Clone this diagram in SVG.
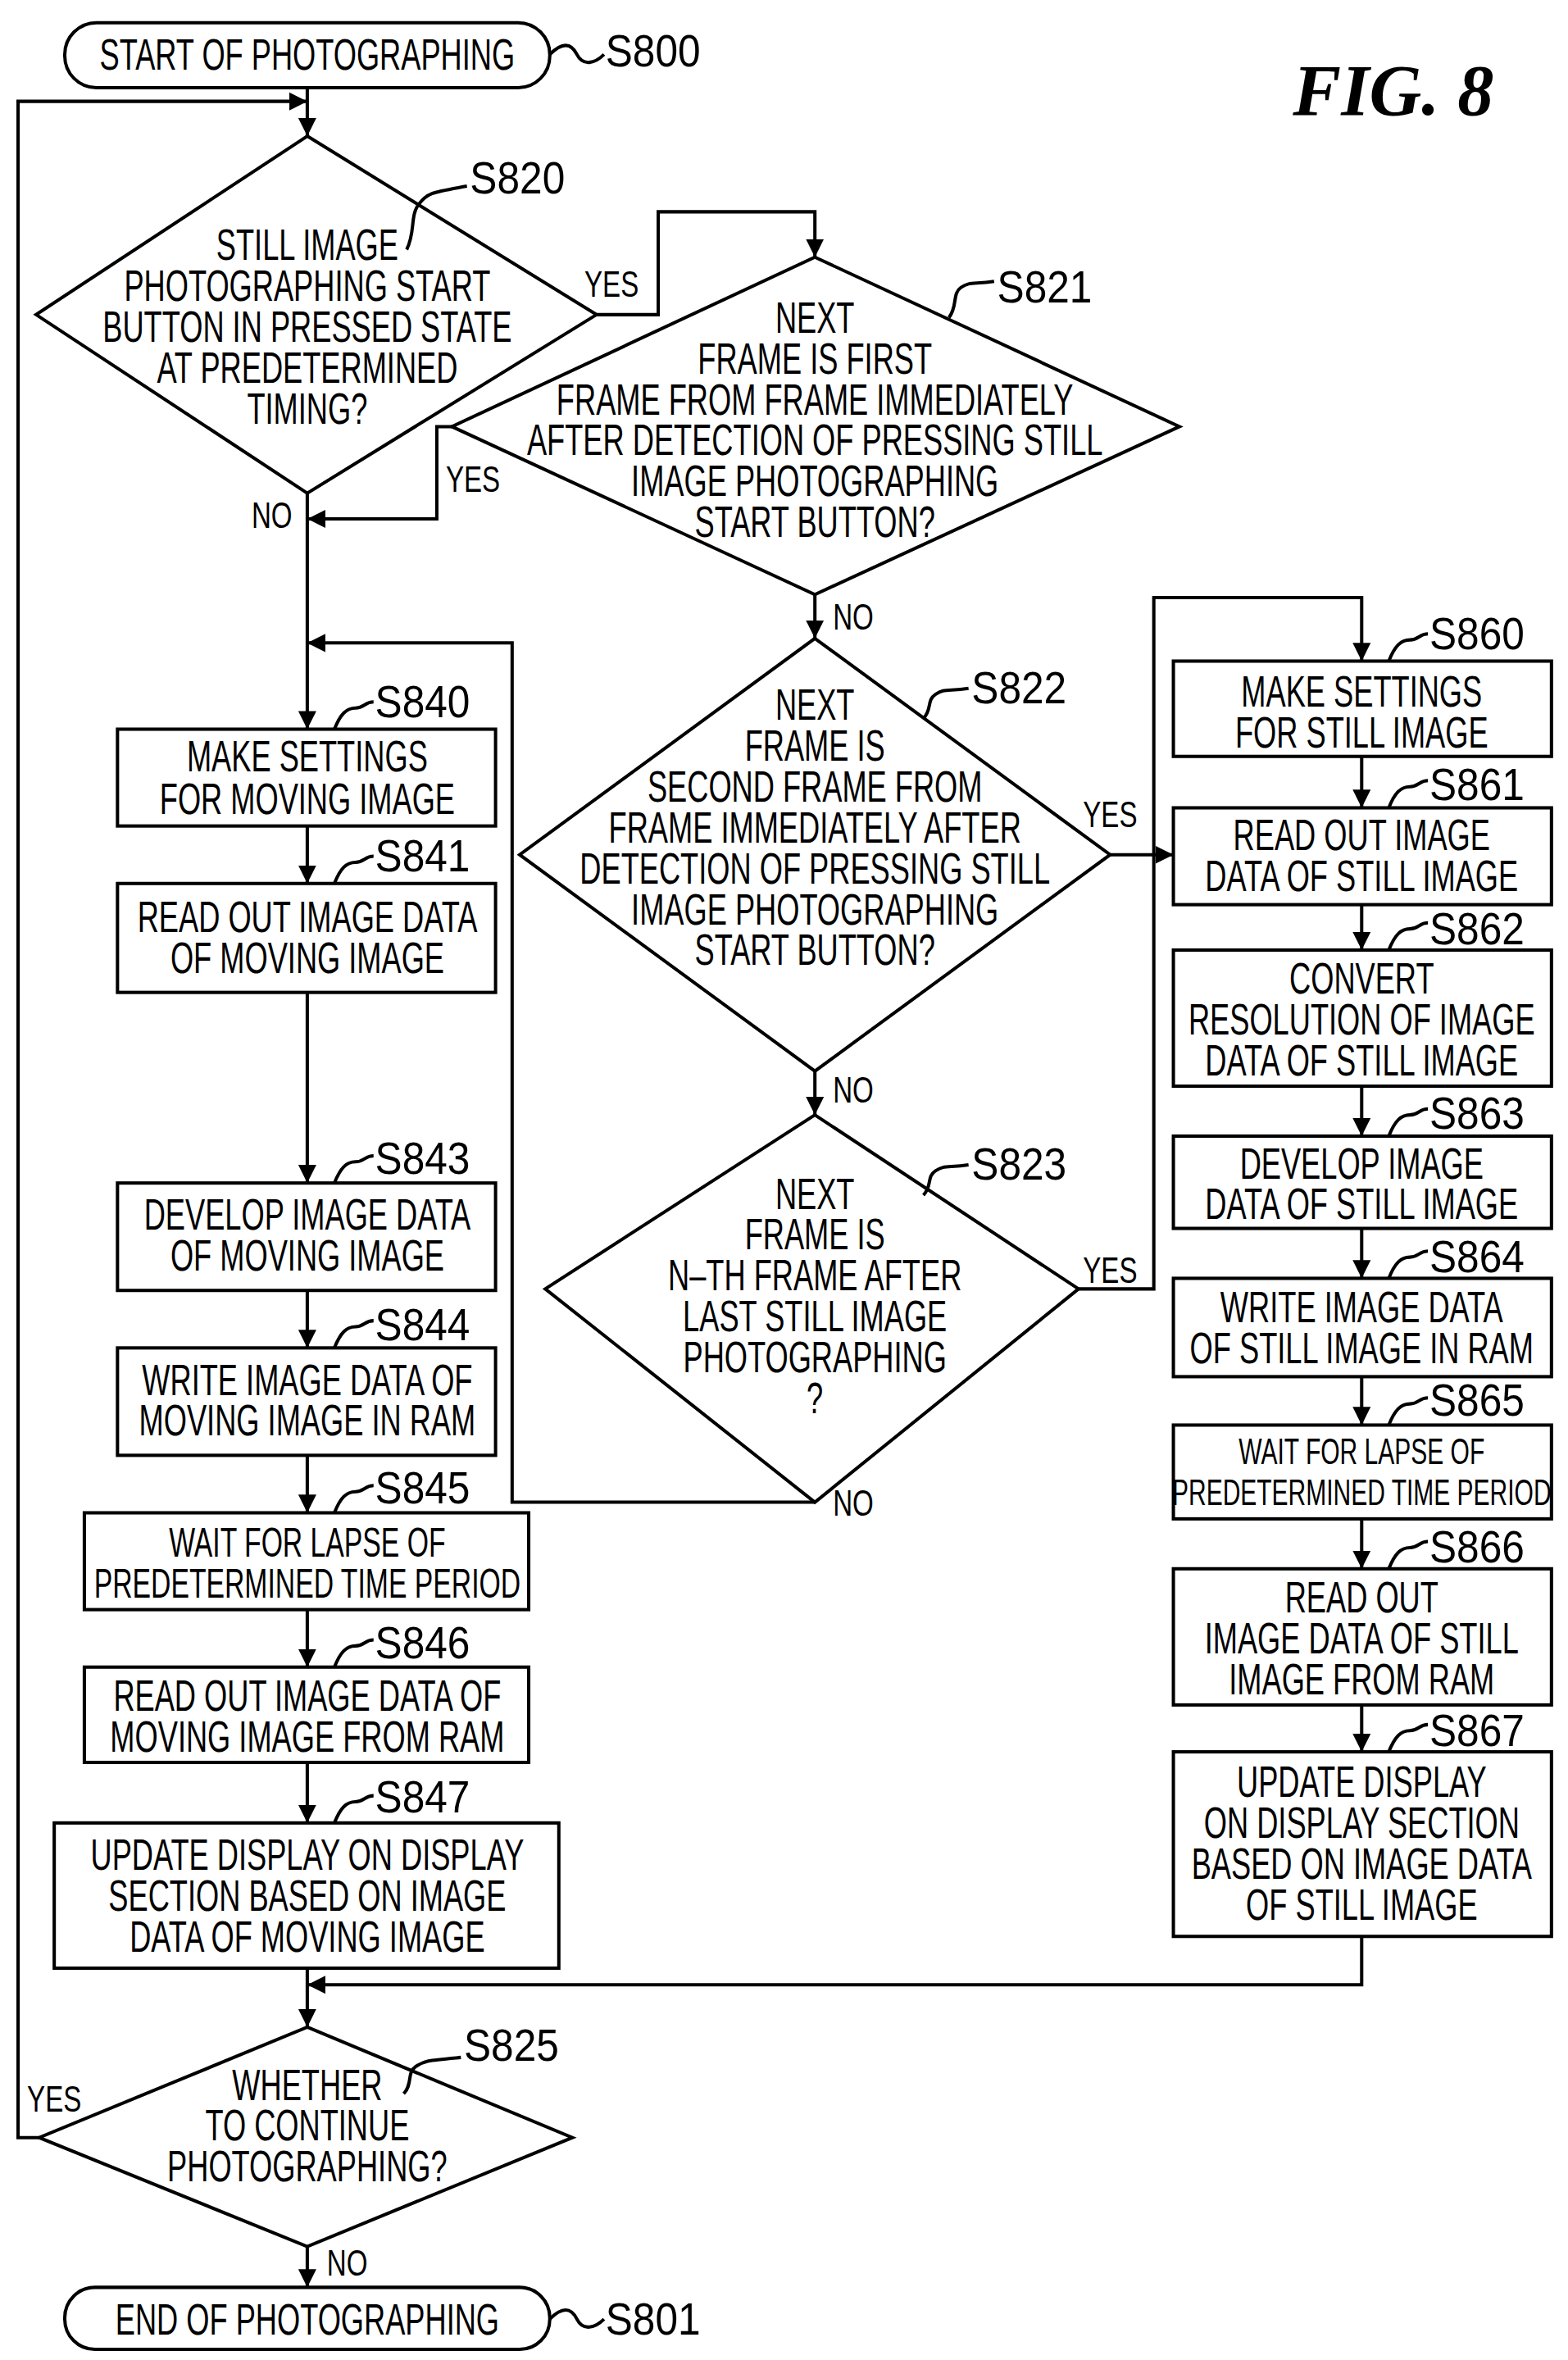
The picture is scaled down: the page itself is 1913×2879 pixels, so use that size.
<svg xmlns="http://www.w3.org/2000/svg" width="1913" height="2879" viewBox="0 0 1913 2879">
<style>
.s{fill:none;stroke:#000;stroke-width:2.2}
.t{font-family:"Liberation Sans",sans-serif;font-size:29px;text-anchor:middle;fill:#000;transform-box:fill-box;transform-origin:center;transform:scaleX(0.68)}
.l{font-family:"Liberation Sans",sans-serif;font-size:30px;fill:#000;transform-box:fill-box;transform-origin:left;transform:scaleX(0.9)}
.y{font-family:"Liberation Sans",sans-serif;font-size:24px;fill:#000;transform-box:fill-box;transform-origin:left;transform:scaleX(0.75)}
</style>
<defs>
<marker id="a" markerUnits="userSpaceOnUse" markerWidth="12" markerHeight="18" viewBox="0 0 12 18" refX="12" refY="9" orient="auto"><path d="M0,3L12,9L0,15Z" fill="#000"/></marker>
</defs>
<rect width="1913" height="2879" fill="#fff"/>
<g transform="scale(1.8377,1.8455)">
<text x="925" y="76" text-anchor="middle" style="font-family:'Liberation Serif',serif;font-style:italic;font-weight:bold;font-size:48px">FIG. 8</text>
<g id="connectors" class="s">
<path d="M204,58V90" marker-end="url(#a)"/>
<path d="M26,1413H12V67H204" marker-end="url(#a)"/>
<path d="M396,208H437V140H541V170" marker-end="url(#a)"/>
<path d="M300,282H290V343H204" marker-end="url(#a)"/>
<path d="M204,326V482" marker-end="url(#a)"/>
<path d="M541,993H340V425H204" marker-end="url(#a)"/>
<path d="M541,393V422" marker-end="url(#a)"/>
<path d="M541,708V737" marker-end="url(#a)"/>
<path d="M737,565H779" marker-end="url(#a)"/>
<path d="M716,852H766V395H904V437" marker-end="url(#a)"/>
<path d="M204,546V584" marker-end="url(#a)"/>
<path d="M204,656V782" marker-end="url(#a)"/>
<path d="M204,853V891" marker-end="url(#a)"/>
<path d="M204,962V1000" marker-end="url(#a)"/>
<path d="M204,1064V1102" marker-end="url(#a)"/>
<path d="M204,1165V1205" marker-end="url(#a)"/>
<path d="M204,1301V1340" marker-end="url(#a)"/>
<path d="M904,1280V1312H204" marker-end="url(#a)"/>
<path d="M204,1485V1512" marker-end="url(#a)"/>
<path d="M904,500V534" marker-end="url(#a)"/>
<path d="M904,598V628" marker-end="url(#a)"/>
<path d="M904,718V751" marker-end="url(#a)"/>
<path d="M904,812V845" marker-end="url(#a)"/>
<path d="M904,910V942" marker-end="url(#a)"/>
<path d="M904,1004V1037" marker-end="url(#a)"/>
<path d="M904,1127V1158" marker-end="url(#a)"/>
</g>
<g id="edge-labels">
<text class="y" x="388" y="196">YES</text>
<text class="y" x="296" y="325">YES</text>
<text class="y" x="167" y="349">NO</text>
<text class="y" x="553" y="416">NO</text>
<text class="y" x="719" y="547">YES</text>
<text class="y" x="553" y="729">NO</text>
<text class="y" x="719" y="848">YES</text>
<text class="y" x="553" y="1002">NO</text>
<text class="y" x="18" y="1396">YES</text>
<text class="y" x="217" y="1504">NO</text>
</g>
<g id="S800"><rect class="s" x="43" y="15" width="322" height="43" rx="21"/><text class="t" x="204" y="46">START OF PHOTOGRAPHING</text><path class="s" d="M365,36c8,-8 14,-8 18,0s12,6 18,0"/><text class="l" x="402" y="44">S800</text></g>
<g id="S820"><path class="s" d="M204,90L396,208L204,326L24,208Z"/><text class="t"><tspan x="204" y="172">STILL IMAGE</tspan><tspan x="204" y="199">PHOTOGRAPHING START</tspan><tspan x="204" y="226">BUTTON IN PRESSED STATE</tspan><tspan x="204" y="253">AT PREDETERMINED</tspan><tspan x="204" y="280">TIMING?</tspan></text><path class="s" d="M270,165c6,-12 2,-22 8,-30s10,-8 32,-12"/><text class="l" x="312" y="128">S820</text></g>
<g id="S821"><path class="s" d="M541,170L783,282L541,393L300,282Z"/><text class="t"><tspan x="541" y="220">NEXT</tspan><tspan x="541" y="247">FRAME IS FIRST</tspan><tspan x="541" y="274">FRAME FROM FRAME IMMEDIATELY</tspan><tspan x="541" y="301">AFTER DETECTION OF PRESSING STILL</tspan><tspan x="541" y="328">IMAGE PHOTOGRAPHING</tspan><tspan x="541" y="355">START BUTTON?</tspan></text><path class="s" d="M630,210c6,-8 2,-16 8,-20s8,-2 22,-4"/><text class="l" x="662" y="200">S821</text></g>
<g id="S822"><path class="s" d="M541,422L737,565L541,708L345,565Z"/><text class="t"><tspan x="541" y="476">NEXT</tspan><tspan x="541" y="503">FRAME IS</tspan><tspan x="541" y="530">SECOND FRAME FROM</tspan><tspan x="541" y="557">FRAME IMMEDIATELY AFTER</tspan><tspan x="541" y="584">DETECTION OF PRESSING STILL</tspan><tspan x="541" y="611">IMAGE PHOTOGRAPHING</tspan><tspan x="541" y="638">START BUTTON?</tspan></text><path class="s" d="M613,475c6,-6 2,-12 8,-16s8,-2 22,-4"/><text class="l" x="645" y="465">S822</text></g>
<g id="S823"><path class="s" d="M541,737L716,852L541,993L362,852Z"/><text class="t"><tspan x="541" y="799">NEXT</tspan><tspan x="541" y="826">FRAME IS</tspan><tspan x="541" y="853">N–TH FRAME AFTER</tspan><tspan x="541" y="880">LAST STILL IMAGE</tspan><tspan x="541" y="907">PHOTOGRAPHING</tspan><tspan x="541" y="934">?</tspan></text><path class="s" d="M613,790c6,-6 2,-12 8,-16s8,-2 22,-4"/><text class="l" x="645" y="780">S823</text></g>
<g id="S840"><rect class="s" x="78" y="482" width="251" height="64"/><text class="t"><tspan x="204" y="510">MAKE SETTINGS</tspan><tspan x="204" y="538">FOR MOVING IMAGE</tspan></text><path class="s" d="M222,482c4,-10 8,-14 14,-14s6,-4 12,-4"/><text class="l" x="249" y="474">S840</text></g>
<g id="S841"><rect class="s" x="78" y="584" width="251" height="72"/><text class="t"><tspan x="204" y="616">READ OUT IMAGE DATA</tspan><tspan x="204" y="643">OF MOVING IMAGE</tspan></text><path class="s" d="M222,584c4,-10 8,-14 14,-14s6,-4 12,-4"/><text class="l" x="249" y="576">S841</text></g>
<g id="S843"><rect class="s" x="78" y="782" width="251" height="71"/><text class="t"><tspan x="204" y="813">DEVELOP IMAGE DATA</tspan><tspan x="204" y="840">OF MOVING IMAGE</tspan></text><path class="s" d="M222,782c4,-10 8,-14 14,-14s6,-4 12,-4"/><text class="l" x="249" y="776">S843</text></g>
<g id="S844"><rect class="s" x="78" y="891" width="251" height="71"/><text class="t"><tspan x="204" y="922">WRITE IMAGE DATA OF</tspan><tspan x="204" y="949">MOVING IMAGE IN RAM</tspan></text><path class="s" d="M222,891c4,-10 8,-14 14,-14s6,-4 12,-4"/><text class="l" x="249" y="886">S844</text></g>
<g id="S845"><rect class="s" x="56" y="1000" width="295" height="64"/><text class="t" style="font-size:27px"><tspan x="204" y="1029">WAIT FOR LAPSE OF</tspan><tspan x="204" y="1056">PREDETERMINED TIME PERIOD</tspan></text><path class="s" d="M222,1000c4,-10 8,-14 14,-14s6,-4 12,-4"/><text class="l" x="249" y="994">S845</text></g>
<g id="S846"><rect class="s" x="56" y="1102" width="295" height="63"/><text class="t"><tspan x="204" y="1131">READ OUT IMAGE DATA OF</tspan><tspan x="204" y="1158">MOVING IMAGE FROM RAM</tspan></text><path class="s" d="M222,1102c4,-10 8,-14 14,-14s6,-4 12,-4"/><text class="l" x="249" y="1096">S846</text></g>
<g id="S847"><rect class="s" x="36" y="1205" width="335" height="96"/><text class="t"><tspan x="204" y="1236">UPDATE DISPLAY ON DISPLAY</tspan><tspan x="204" y="1263">SECTION BASED ON IMAGE</tspan><tspan x="204" y="1290">DATA OF MOVING IMAGE</tspan></text><path class="s" d="M222,1205c4,-10 8,-14 14,-14s6,-4 12,-4"/><text class="l" x="249" y="1198">S847</text></g>
<g id="S825"><path class="s" d="M204,1340L380,1413L204,1485L26,1413Z"/><text class="t"><tspan x="204" y="1388">WHETHER</tspan><tspan x="204" y="1415">TO CONTINUE</tspan><tspan x="204" y="1442">PHOTOGRAPHING?</tspan></text><path class="s" d="M268,1384c6,-6 2,-14 8,-18s8,-4 30,-6"/><text class="l" x="308" y="1362">S825</text></g>
<g id="S801"><rect class="s" x="43" y="1512" width="322" height="41" rx="20"/><text class="t" x="204" y="1543">END OF PHOTOGRAPHING</text><path class="s" d="M365,1533c8,-8 14,-8 18,0s12,6 18,0"/><text class="l" x="402" y="1543">S801</text></g>
<g id="S860"><rect class="s" x="779" y="437" width="251" height="63"/><text class="t"><tspan x="904" y="467">MAKE SETTINGS</tspan><tspan x="904" y="494">FOR STILL IMAGE</tspan></text><path class="s" d="M922,437c4,-10 8,-14 14,-14s6,-4 12,-4"/><text class="l" x="949" y="429">S860</text></g>
<g id="S861"><rect class="s" x="779" y="534" width="251" height="64"/><text class="t"><tspan x="904" y="562">READ OUT IMAGE</tspan><tspan x="904" y="589">DATA OF STILL IMAGE</tspan></text><path class="s" d="M922,534c4,-10 8,-14 14,-14s6,-4 12,-4"/><text class="l" x="949" y="529">S861</text></g>
<g id="S862"><rect class="s" x="779" y="628" width="251" height="90"/><text class="t"><tspan x="904" y="657">CONVERT</tspan><tspan x="904" y="684">RESOLUTION OF IMAGE</tspan><tspan x="904" y="711">DATA OF STILL IMAGE</tspan></text><path class="s" d="M922,628c4,-10 8,-14 14,-14s6,-4 12,-4"/><text class="l" x="949" y="624">S862</text></g>
<g id="S863"><rect class="s" x="779" y="751" width="251" height="61"/><text class="t"><tspan x="904" y="779">DEVELOP IMAGE</tspan><tspan x="904" y="806">DATA OF STILL IMAGE</tspan></text><path class="s" d="M922,751c4,-10 8,-14 14,-14s6,-4 12,-4"/><text class="l" x="949" y="746">S863</text></g>
<g id="S864"><rect class="s" x="779" y="845" width="251" height="65"/><text class="t"><tspan x="904" y="874">WRITE IMAGE DATA</tspan><tspan x="904" y="901">OF STILL IMAGE IN RAM</tspan></text><path class="s" d="M922,845c4,-10 8,-14 14,-14s6,-4 12,-4"/><text class="l" x="949" y="841">S864</text></g>
<g id="S865"><rect class="s" x="779" y="942" width="251" height="62"/><text class="t" style="font-size:24px"><tspan x="904" y="968">WAIT FOR LAPSE OF</tspan><tspan x="904" y="995">PREDETERMINED TIME PERIOD</tspan></text><path class="s" d="M922,942c4,-10 8,-14 14,-14s6,-4 12,-4"/><text class="l" x="949" y="936">S865</text></g>
<g id="S866"><rect class="s" x="779" y="1037" width="251" height="90"/><text class="t"><tspan x="904" y="1066">READ OUT</tspan><tspan x="904" y="1093">IMAGE DATA OF STILL</tspan><tspan x="904" y="1120">IMAGE FROM RAM</tspan></text><path class="s" d="M922,1037c4,-10 8,-14 14,-14s6,-4 12,-4"/><text class="l" x="949" y="1033">S866</text></g>
<g id="S867"><rect class="s" x="779" y="1158" width="251" height="122"/><text class="t"><tspan x="904" y="1188">UPDATE DISPLAY</tspan><tspan x="904" y="1215">ON DISPLAY SECTION</tspan><tspan x="904" y="1242">BASED ON IMAGE DATA</tspan><tspan x="904" y="1269">OF STILL IMAGE</tspan></text><path class="s" d="M922,1158c4,-10 8,-14 14,-14s6,-4 12,-4"/><text class="l" x="949" y="1154">S867</text></g>
</g>
</svg>
